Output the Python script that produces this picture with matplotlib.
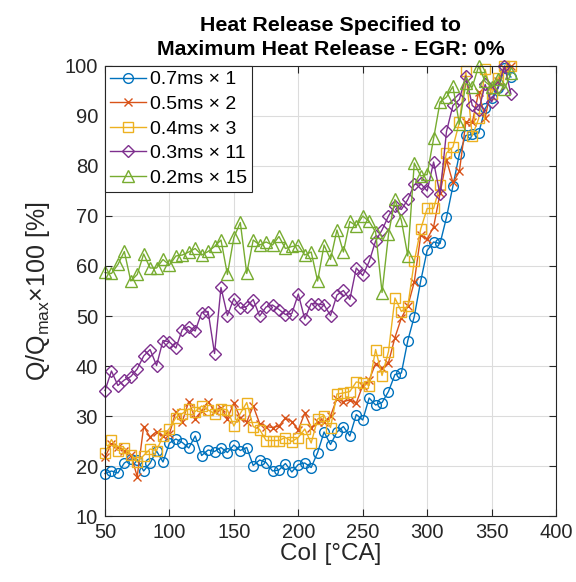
import matplotlib.pyplot as plt

plt.rcParams['font.family'] = ['Liberation Sans', 'DejaVu Sans']
plt.rcParams['mathtext.fontset'] = 'custom'
plt.rcParams['mathtext.rm'] = 'Liberation Sans'
plt.rcParams['mathtext.it'] = 'Liberation Sans'

# data
coi = [50, 55, 60, 65, 70, 75, 80, 85, 90, 95,
       100, 105, 110, 115, 120, 125, 130, 135, 140, 145,
       150, 155, 160, 165, 170, 175, 180, 185, 190, 195,
       200, 205, 210, 215, 220, 225, 230, 235, 240, 245,
       250, 255, 260, 265, 270, 275, 280, 285, 290, 295,
       300, 305, 310, 315, 320, 325, 330, 335, 340, 345,
       350, 355, 360, 365]

q_07 = [18.5, 19.0, 18.6, 20.6, 21.4, 21.3, 19.0, 20.6, 23.0, 20.8,
        24.6, 25.4, 24.7, 23.6, 26.0, 22.1, 23.2, 22.9, 23.7, 22.7,
        24.2, 23.1, 23.7, 20.1, 21.2, 20.7, 19.0, 19.2, 20.5, 18.8,
        20.3, 20.6, 19.7, 22.7, 26.8, 24.3, 26.8, 27.9, 26.0, 30.3,
        29.2, 33.6, 32.2, 32.7, 34.9, 38.3, 38.6, 45.1, 49.9, 57.0,
        63.1, 64.8, 64.5, 69.7, 76.0, 82.4, 86.1, 86.3, 86.6, 91.5,
        93.5, 95.5, 99.5, 97.8]

q_05 = [21.8, 24.4, 23.8, 23.1, 22.3, 17.9, 27.9, 25.8, 26.9, 26.0,
        26.4, 30.9, 28.9, 32.9, 29.5, 31.0, 32.9, 31.0, 31.6, 29.5,
        32.6, 29.6, 28.8, 32.0, 28.5, 27.9, 27.7, 28.0, 29.6, 28.9,
        27.2, 30.6, 27.7, 28.8, 28.8, 30.0, 33.5, 32.9, 33.2, 32.6,
        36.1, 37.2, 40.5, 39.6, 40.7, 45.7, 49.6, 52.0, 56.8, 66.1,
        65.4, 67.8, 74.5, 81.2, 76.7, 78.9, 88.7, 88.7, 94.8, 89.6,
        96.0, 97.0, 99.5, 100.0]

q_04 = [22.6, 25.3, 23.1, 23.6, 22.3, 20.8, 22.1, 23.4, 23.1, 26.0,
        27.5, 29.7, 30.5, 31.4, 30.9, 32.0, 31.2, 30.5, 31.5, 31.2,
        28.0, 30.5, 32.7, 27.9, 27.3, 25.1, 25.1, 25.1, 25.7, 24.9,
        25.7, 27.4, 24.6, 29.4, 30.1, 27.7, 34.4, 34.6, 34.9, 36.8,
        36.6, 36.1, 43.3, 38.1, 42.9, 53.6, 50.9, 52.0, 60.9, 67.4,
        71.5, 71.5, 76.1, 82.6, 83.8, 88.7, 98.9, 86.0, 89.5, 99.3,
        94.3, 97.6, 99.9, 100.0]

q_03 = [35.1, 39.0, 36.1, 37.2, 37.9, 39.4, 42.0, 43.3, 40.1, 45.1,
        44.8, 43.6, 47.3, 47.9, 47.0, 50.7, 50.9, 42.5, 55.7, 50.1,
        53.5, 51.6, 51.9, 53.3, 50.0, 51.8, 52.2, 51.3, 50.3, 50.5,
        54.4, 49.4, 52.5, 52.4, 52.2, 50.1, 54.2, 55.1, 53.3, 59.6,
        58.1, 60.9, 65.0, 67.2, 70.0, 72.0, 71.3, 73.3, 76.3, 76.5,
        75.0, 80.8, 74.3, 86.9, 92.1, 93.3, 98.0, 92.1, 91.1, 96.3,
        92.8, 95.8, 100.0, 94.4]

q_02 = [58.7, 58.5, 60.3, 62.9, 57.0, 58.3, 62.4, 59.6, 59.6, 61.3,
        60.2, 62.0, 62.2, 62.8, 63.5, 62.2, 62.9, 63.9, 65.2, 58.3,
        65.7, 68.7, 58.5, 65.2, 64.2, 64.8, 64.2, 65.9, 63.5, 63.9,
        64.1, 62.2, 62.8, 57.0, 64.2, 61.3, 67.2, 62.8, 68.9, 68.0,
        70.0, 68.9, 66.8, 54.7, 66.3, 73.3, 69.1, 62.0, 80.6, 78.0,
        78.3, 85.5, 92.8, 93.8, 95.9, 88.4, 96.5, 95.8, 100.0, 96.9,
        95.8, 97.3, 95.4, 98.5]

series = [q_07, q_05, q_04, q_03, q_02]
labels = ['0.7ms × 1', '0.5ms × 2', '0.4ms × 3', '0.3ms × 11', '0.2ms × 15']
colors = ['#0072BD', '#D95319', '#EDB120', '#7E2F8E', '#77AC30']
markers = ['o', 'x', 's', 'D', '^']
msizes = [7, 6, 6.5, 6, 8]

fig = plt.figure(figsize=(5.76, 5.82), dpi=100)
ax = fig.add_axes([0.1823, 0.1134, 0.783, 0.7732])

for y, lab, c, m, ms in zip(series, labels, colors, markers, msizes):
    ax.plot(coi, y, color=c, marker=m, markersize=ms, markerfacecolor='none',
            markeredgecolor=c, markeredgewidth=1.0, linewidth=1.0,
            label=lab, clip_on=False)

ax.set_xlim(50, 400)
ax.set_ylim(10, 100)
ax.set_xticks([50, 100, 150, 200, 250, 300, 350, 400])
ax.set_yticks([10, 20, 30, 40, 50, 60, 70, 80, 90, 100])
ax.grid(True, color='#dcdcdc', linewidth=0.8)
ax.set_axisbelow(True)

dark = '#262626'
for s in ax.spines.values():
    s.set_color(dark)
    s.set_linewidth(0.8)
ax.tick_params(direction='in', length=5, width=0.8, colors=dark,
               labelsize=14.5, top=True, right=True, pad=5)

ax.set_xlabel('CoI [°CA]', fontsize=17.5, color=dark, labelpad=1)
ax.set_ylabel(r'Q/Q$_{\mathrm{max}}$×100 [%]', fontsize=18, color=dark, labelpad=9)
ax.set_title('Heat Release Specified to\nMaximum Heat Release - EGR: 0%',
             fontsize=15.4, fontweight='bold', pad=8, linespacing=1.35)

leg = ax.legend(loc='upper left', fontsize=14, borderaxespad=0.0,
                fancybox=False, framealpha=1, edgecolor=dark,
                handlelength=1.85, handletextpad=0.2, labelspacing=0.36,
                borderpad=0.25)
leg.get_frame().set_linewidth(0.8)

plt.savefig('out.png', dpi=100)
